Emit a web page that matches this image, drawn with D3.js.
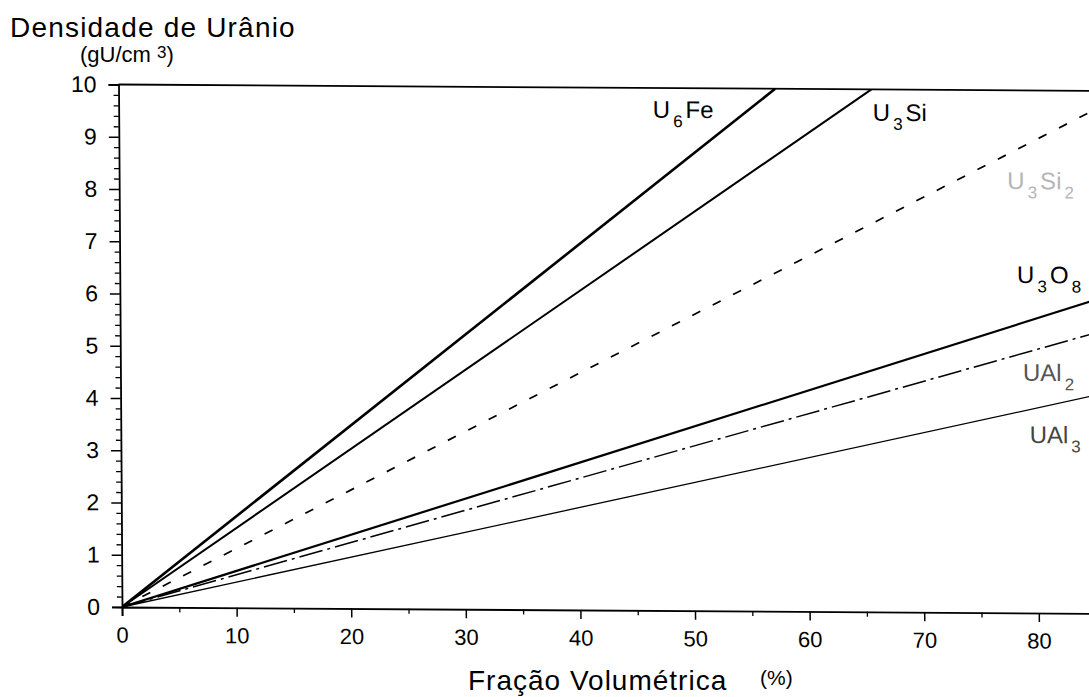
<!DOCTYPE html>
<html><head><meta charset="utf-8">
<script src="https://cdn.jsdelivr.net/npm/d3@7"></script>
<style>
body{margin:0;background:#fff}
svg{display:block}
text{font-family:"Liberation Sans",Arial,Helvetica,sans-serif;fill:#000}
</style>
</head><body>
<svg id="chart" width="1089" height="697"></svg>
<script>
// ---- data ----
const seriesNames = ["U6Fe", "U3Si", "U3Si2", "U3O8", "UAl2", "UAl3"];
const U6Fe  = [[0, 0], [57.3, 10]];
const U3Si  = [[0, 0], [65.7, 10]];
const U3Si2 = [[0, 0], [85, 9.62]];
const U3O8  = [[0, 0], [85, 5.99]];
const UAl2  = [[0, 0], [85, 5.36]];
const UAl3  = [[0, 0], [85, 4.17]];
const seriesValues = [U6Fe, U3Si, U3Si2, U3O8, UAl2, UAl3];
const xTicks = [0, 10, 20, 30, 40, 50, 60, 70, 80];
const xMinorTicks = [5, 15, 25, 35, 45, 55, 65, 75, 85];
const yTicks = [0, 1, 2, 3, 4, 5, 6, 7, 8, 9, 10];
// label anchors (data coordinates) and parts: [main, sub, main, sub]
const labelParts = [["U","6","Fe",""],["U","3","Si",""],["U","3","Si","2"],["U","3","O","8"],["UAl","2","",""],["UAl","3","",""]];
const labelAt = [[46.6, 9.43],[65.8, 9.40],[77.5, 8.11],[78.3, 6.31],[78.75, 4.44],[79.3, 3.25]];

// ---- styles ----
const strokeW = {U6Fe:2.6, U3Si:2.0, U3Si2:1.7, U3O8:2.2, UAl2:1.5, UAl3:1.3};
const dashes  = {U6Fe:null, U3Si:null, U3Si2:"9,14", U3O8:null, UAl2:"24,5,3,5", UAl3:null};
const labelFill = {U6Fe:"#000", U3Si:"#000", U3Si2:"#b5b5b5", U3O8:"#000", UAl2:"#555", UAl3:"#444"};

const svg = d3.select("#chart");
const x0 = 122, y0 = 607;
const x = d3.scaleLinear().domain([0, 90]).range([x0, x0 + 11.46 * 90]);
const y = d3.scaleLinear().domain([0, 10]).range([y0, 84.5]);

// slight scan skew of the original
const g = svg.append("g")
  .attr("transform", `matrix(1,0.0065,0.0067,1,${-0.0067*y0},${-0.0065*x0})`);

svg.append("defs").append("clipPath").attr("id","clip")
  .append("rect").attr("x", x0).attr("y", y(10)).attr("width", 1200).attr("height", y0 - y(10));

// top frame
g.append("line").attr("x1", x(0)).attr("x2", x(90)).attr("y1", y(10)).attr("y2", y(10))
  .attr("stroke","#000").attr("stroke-width",1.8);

const ff = '"Liberation Sans",Arial,sans-serif';
// x axis
const xAxis = g.append("g").attr("transform", `translate(0,${y0})`)
  .call(d3.axisBottom(x).tickValues(xTicks).tickSize(9).tickPadding(11).tickFormat(d3.format("d")));
xAxis.select(".domain").attr("stroke-width",1.8);
xAxis.selectAll(".tick line").attr("stroke-width",1.5);
xAxis.selectAll("text").attr("font-size",22).style("font-family",ff);
g.append("g").attr("transform", `translate(0,${y0})`)
  .call(d3.axisBottom(x).tickValues(xMinorTicks).tickSize(5).tickFormat(""))
  .call(s => s.select(".domain").remove())
  .selectAll(".tick line").attr("stroke-width",1.3);

// y axis
const yAxis = g.append("g").attr("transform", `translate(${x0},0)`)
  .call(d3.axisLeft(y).tickValues(yTicks).tickSize(10).tickPadding(12).tickFormat(d3.format("d")));
yAxis.select(".domain").attr("stroke-width",1.8);
yAxis.selectAll(".tick line").attr("stroke-width",1.5);
yAxis.selectAll("text").attr("font-size",23).style("font-family",ff);
const minorY = d3.range(0, 10.001, 0.2).filter(v => Math.abs(v - Math.round(v)) > 1e-6);
g.append("g").attr("transform", `translate(${x0},0)`)
  .call(d3.axisLeft(y).tickValues(minorY).tickSize(5).tickFormat(""))
  .call(s => s.select(".domain").remove())
  .selectAll(".tick line").attr("stroke-width",1.3);

// lines
const line = d3.line().x(d => x(d[0])).y(d => y(d[1]));
g.append("g").attr("clip-path","url(#clip)")
  .selectAll("path").data(seriesValues).join("path")
  .attr("d", line)
  .attr("fill","none")
  .attr("stroke","#000")
  .attr("stroke-width",(d,i) => strokeW[seriesNames[i]])
  .attr("stroke-dasharray",(d,i) => dashes[seriesNames[i]]);

// series labels
labelParts.forEach((parts, i) => {
  const name = seriesNames[i];
  const t = g.append("text").attr("x", x(labelAt[i][0])).attr("y", y(labelAt[i][1]))
    .attr("font-size",24).style("fill", labelFill[name]);
  let shifted = 0;
  parts.forEach((p, k) => {
    if (!p) return;
    const isSub = k % 2 === 1;
    const ts = t.append("tspan").text(p);
    if (isSub) { ts.attr("font-size",17).attr("dy", 9 - shifted).attr("dx", 3); shifted = 9; }
    else { ts.attr("dy", -shifted).attr("dx", k ? 3 : 0); shifted = 0; }
  });
});

// titles
svg.append("text").attr("x",10).attr("y",37).attr("font-size",28).attr("letter-spacing",1.2)
  .text("Densidade de Urânio");
const u = svg.append("text").attr("x",80).attr("y",62).attr("font-size",22);
u.append("tspan").text("(gU/cm ");
u.append("tspan").attr("font-size",17).attr("dy",-4).text("3");
u.append("tspan").attr("dy",4).text(")");
svg.append("text").attr("x",468).attr("y",690).attr("font-size",28).attr("letter-spacing",1)
  .text("Fração Volumétrica");
svg.append("text").attr("x",760).attr("y",685).attr("font-size",21).text("(%)");
</script>
</body></html>
